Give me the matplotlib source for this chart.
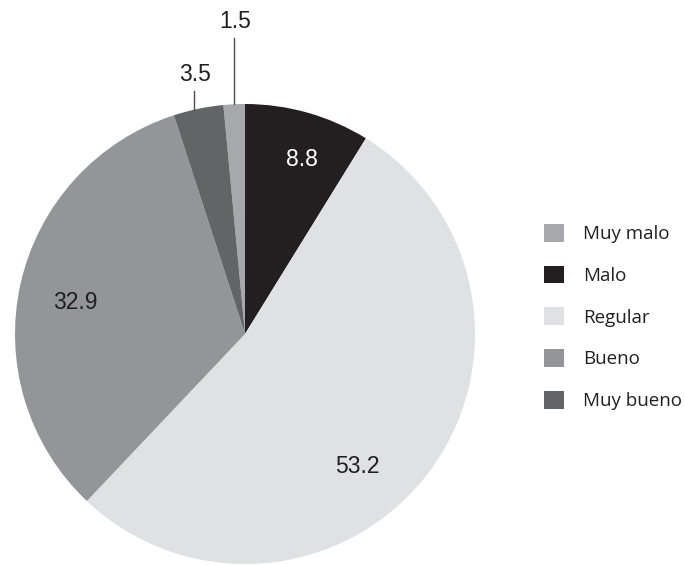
import numpy as np
import matplotlib.pyplot as plt
from matplotlib.patches import Patch

# datos (porcentajes)
categorias = ['Muy malo', 'Malo', 'Regular', 'Bueno', 'Muy bueno']
valores = [1.5, 8.8, 53.2, 32.9, 3.5]
etiquetas = ['1.5', '8.8', '53.2', '32.9', '3.5']
colores = ['#a7a8ab', '#231f20', '#e0e1e3', '#939598', '#636466']

fig = plt.figure(figsize=(6.85, 5.65), dpi=100)
# ejes cuadrados: centro del pastel en (245, 334) px, radio 230 px
ax = fig.add_axes([15 / 685, 1 / 565, 460 / 685, 460 / 565])

inicio = 90 + valores[0] * 3.6
wedges, _ = ax.pie(valores, colors=colores, startangle=inicio, counterclock=False,
                   radius=1, center=(0, 0), frame=True,
                   wedgeprops=dict(linewidth=0))
ax.set_xlim(-1, 1)
ax.set_ylim(-1, 1)
ax.axis('off')

fuente_num = 'Liberation Sans'

# etiquetas dentro de las porciones grandes
dentro = {1: (0.248, 0.757, 'white'), 2: (0.487, -0.578, '#231f20'),
          3: (-0.739, 0.139, '#231f20')}
for i, (x, y, c) in dentro.items():
    ax.text(x, y, etiquetas[i], ha='center', va='center', fontsize=16.5,
            color=c, family=fuente_num)

# etiquetas con línea guía para las porciones pequeñas
fuera = {0: (1.287, 1.36, 0.0), 4: (1.057, 1.13, -0.018)}
for i, (ytop, ytxt, dx) in fuera.items():
    w = wedges[i]
    ang = np.deg2rad((w.theta1 + w.theta2) / 2)
    x = np.cos(ang) + dx
    y0 = np.sqrt(1 - x ** 2)
    ax.plot([x, x], [y0, ytop], color='#4d4d4f', lw=1, clip_on=False)
    ax.text(x + 0.005, ytxt, etiquetas[i], ha='center', va='center', fontsize=16.5,
            color='#231f20', family=fuente_num)

handles = [Patch(facecolor=c, edgecolor='none') for c in colores]
fig.legend(handles, categorias, loc='center left', bbox_to_anchor=(544 / 685, 248 / 565),
           frameon=False, borderpad=0, borderaxespad=0, handlelength=1.08,
           handleheight=1.08, handletextpad=1.0, labelspacing=1.2,
           prop=dict(family='Open Sans', size=13.5), labelcolor='#231f20')

fig.savefig('out.png', dpi=100)
